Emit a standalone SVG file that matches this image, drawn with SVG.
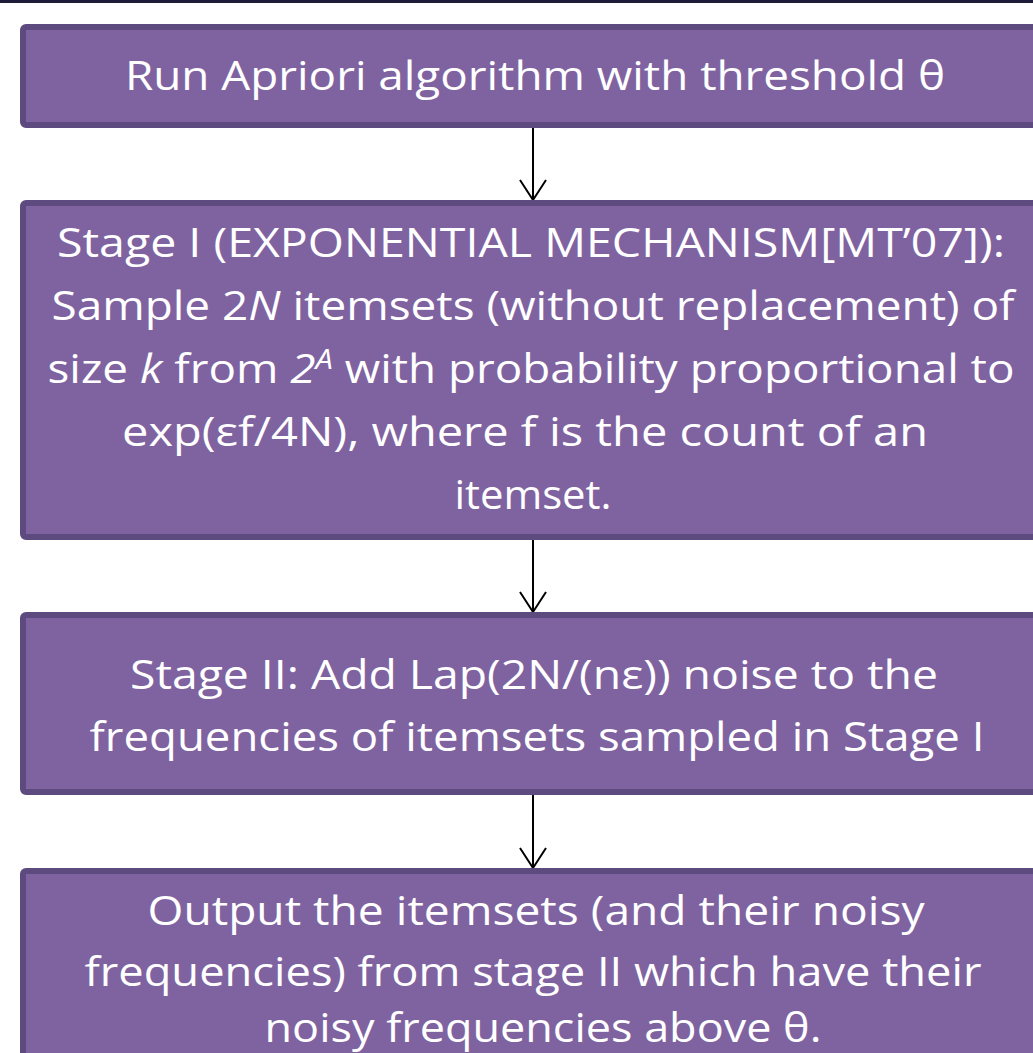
<svg xmlns="http://www.w3.org/2000/svg" width="1033" height="1053" viewBox="0 0 1033 1053">
<defs>
<style>
.box{fill:#7F63A1;stroke:#5D4A7E;stroke-width:6}
.t{font-family:"Open Sans","Noto Sans","DejaVu Sans",sans-serif;font-size:40px;fill:#ffffff;text-anchor:middle}
.c{stroke:#000;stroke-width:2;fill:none}
</style>
<marker id="ah" markerUnits="userSpaceOnUse" markerWidth="24" markerHeight="30" viewBox="-22 -15 24 30" refX="0" refY="0" orient="auto">
<path d="M-20,-13 L0,0 L-20,13" stroke="#000" stroke-width="2" fill="none"/>
</marker>
</defs>
<rect x="0" y="0" width="1033" height="1053" fill="#ffffff"/>
<rect x="0" y="0" width="1033" height="3" fill="#1C1B3A"/>
<g id="connectors">
<line class="c" x1="533" y1="128" x2="533" y2="200" marker-end="url(#ah)"/>
<line class="c" x1="533" y1="540" x2="533" y2="612" marker-end="url(#ah)"/>
<line class="c" x1="533" y1="795" x2="533" y2="868" marker-end="url(#ah)"/>
</g>
<g id="node1">
<rect class="box" x="23" y="27" width="1030" height="98" rx="3"/>
<text class="t" x="535" y="90" textLength="820" lengthAdjust="spacingAndGlyphs">Run Apriori algorithm with threshold θ</text>
</g>
<g id="node2">
<rect class="box" x="23" y="203" width="1030" height="334" rx="3"/>
<text class="t" x="531" y="257" textLength="948" lengthAdjust="spacingAndGlyphs">Stage I (EXPONENTIAL  MECHANISM[MT’07]):</text>
<text class="t" x="533" y="320" textLength="963" lengthAdjust="spacingAndGlyphs">Sample 2<tspan font-style="italic">N</tspan> itemsets (without replacement) of</text>
<text class="t" x="531" y="383" textLength="967" lengthAdjust="spacingAndGlyphs">size <tspan font-style="italic">k</tspan> from <tspan font-style="italic">2</tspan><tspan font-style="italic" font-size="27" dy="-14">A</tspan><tspan dy="14"> with probability proportional to</tspan></text>
<text class="t" x="525" y="446" textLength="806" lengthAdjust="spacingAndGlyphs">exp(εf/4N), where f is the count of an</text>
<text class="t" x="533" y="509" textLength="157" lengthAdjust="spacingAndGlyphs">itemset.</text>
</g>
<g id="node3">
<rect class="box" x="23" y="615" width="1030" height="177" rx="3"/>
<text class="t" x="534" y="689" textLength="808" lengthAdjust="spacingAndGlyphs">Stage II: Add Lap(2N/(nε)) noise to the</text>
<text class="t" x="537" y="751" textLength="895" lengthAdjust="spacingAndGlyphs">frequencies of itemsets sampled in Stage I</text>
</g>
<g id="node4">
<rect class="box" x="23" y="871" width="1030" height="250" rx="3"/>
<text class="t" x="536" y="925" textLength="777" lengthAdjust="spacingAndGlyphs">Output the itemsets (and their noisy</text>
<text class="t" x="533" y="986" textLength="897" lengthAdjust="spacingAndGlyphs">frequencies) from stage II which have their</text>
<text class="t" x="543" y="1042" textLength="557" lengthAdjust="spacingAndGlyphs">noisy frequencies  above θ.</text>
</g>
</svg>
